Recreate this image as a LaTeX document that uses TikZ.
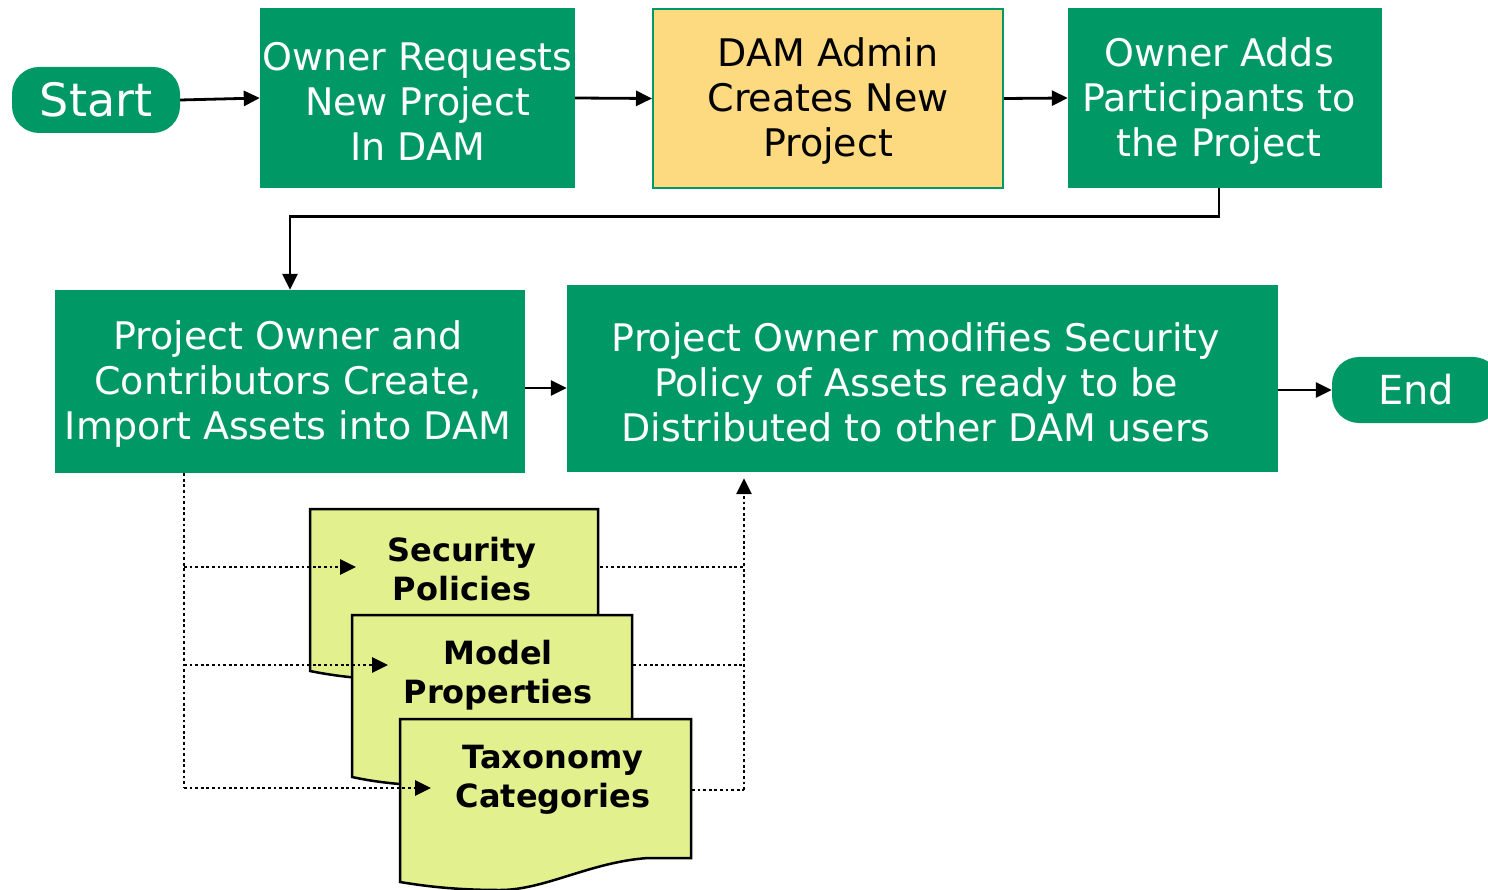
\documentclass[tikz,border=0pt]{standalone}
\usepackage{fontspec}
\setmainfont{DejaVu Sans}
\usetikzlibrary{arrows.meta}
\definecolor{dgreen}{RGB}{0,153,102}
\definecolor{dyellow}{RGB}{253,217,128}
\definecolor{dlime}{RGB}{226,240,142}
\begin{document}
\begin{tikzpicture}[x=1pt,y=-1pt,
  gbox/.style={fill=dgreen,inner sep=0pt},
  ybox/.style={fill=dyellow,draw=dgreen,line width=2pt,inner sep=0pt},
  btext/.style={inner sep=0pt,align=center,font=\fontsize{38}{45}\selectfont},
  term/.style={fill=dgreen,text=white,inner sep=0pt,rounded corners=27pt,minimum width=168pt,minimum height=66pt},
  doctext/.style={inner sep=0pt,align=center,font=\fontsize{32}{38.5}\selectfont\bfseries},
  docshape/.style={fill=dlime,draw=black,line width=2.5pt,line join=miter},
  arr/.style={line width=2.8pt,-{Triangle[length=16pt,width=15pt]}},
  dotl/.style={line width=2.8pt,dash pattern=on 2.8pt off 2.8pt},
  dotarr/.style={dotl,-{Triangle[length=16pt,width=15pt]}}
]
\useasboundingbox (0,0) rectangle (1488,890);

% top row
\node[term,font=\fontsize{46}{50}\selectfont] (start) at (96,100) {Start};
\node[gbox,minimum width=315pt,minimum height=180pt] (box1) at (417.5,98) {};
\node[btext,text=white] (box1t) at (417.5,101) {Owner Requests\\New Project\\In DAM};
\node[ybox,minimum width=350pt,minimum height=179pt] (box2) at (828,98.5) {};
\node[btext,text=black] (box2t) at (828,101) {DAM Admin\\Creates New\\Project};
\node[gbox,minimum width=314pt,minimum height=180pt] (box3) at (1225,98) {};
\node[btext,text=white] (box3t) at (1219,101) {Owner Adds\\Participants to\\the Project};

% second row
\node[gbox,minimum width=470pt,minimum height=183pt] (box4) at (290,381.5) {};
\node[btext,text=white] (box4t) at (288,384) {Project Owner and\\Contributors Create,\\Import Assets into DAM};
\node[gbox,minimum width=711pt,minimum height=187pt] (box5) at (922.5,378.5) {};
\node[btext,text=white] (box5t) at (916,382) {Project Owner modifies Security\\Policy of Assets ready to be\\Distributed to other DAM users};
\node[term,font=\fontsize{40}{46}\selectfont] (end) at (1416,390) {End};

% documents
\draw[docshape] (310,509) -- (598,509) -- (598,647) -- (555,647)
  .. controls (495,651) and (455,680) .. (410,680)
  .. controls (365,680) and (335,676) .. (310,671) -- cycle;
\node[doctext] (doc1) at (462,569) {Security\\Policies};
\draw[docshape] (352,615) -- (632,615) -- (632,753) -- (590,753)
  .. controls (535,757) and (495,786) .. (450,786)
  .. controls (405,786) and (375,782) .. (352,777) -- cycle;
\node[doctext] (doc2) at (498,675) {Model\\Properties};
\draw[docshape] (400,719) -- (691,719) -- (691,858) -- (648,858)
  .. controls (590,862) and (545,890) .. (500,890)
  .. controls (460,890) and (430,887) .. (400,882) -- cycle;
\node[doctext] (doc3) at (553,780) {Taxonomy\\Categories};

% solid connectors
\draw[arr] (start.east) -- (box1.west);
\draw[arr] (box1.east) -- (box2.west);
\draw[arr] (box2.east) -- (box3.west);
\draw[arr] ([xshift=-6pt]box3.south) -- ++(0,28) -| (box4.north);
\draw[arr] (box4.east |- 0,388) -- (box5.west |- 0,388);
\draw[arr] (box5.east |- end.west) -- (end.west);

% dotted connectors
\coordinate (lv) at (184,788);
\coordinate (rv) at (744,790);
\coordinate (t1) at (356,567);
\coordinate (t2) at (388,665);
\coordinate (t3) at (431,788);
\coordinate (r1) at (600,567);
\coordinate (r2) at (633,665);
\coordinate (r3) at (692,790);
\draw[dotl] (box4.south -| lv) -- (lv);
\draw[dotarr] (lv |- t1) -- (t1);
\draw[dotarr] (lv |- t2) -- (t2);
\draw[dotarr] (lv) -- (t3);
\draw[dotl] (r1) -- (r1 -| rv);
\draw[dotl] (r2) -- (r2 -| rv);
\draw[dotl] (r3) -- (rv);
\draw[dotarr,shorten >=6pt] (rv) -- (box5.south -| rv);
\end{tikzpicture}
\end{document}
